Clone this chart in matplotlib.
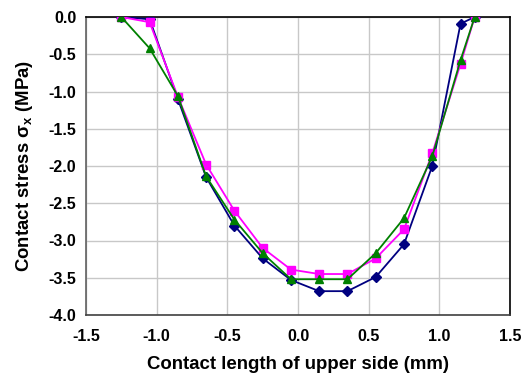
import matplotlib
matplotlib.use("Agg")
import matplotlib.pyplot as plt

x = [-1.25, -1.05, -0.85, -0.65, -0.45, -0.25, -0.05, 0.15, 0.35, 0.55, 0.75, 0.95, 1.15, 1.25]
blue = [0.0, -0.03, -1.10, -2.15, -2.80, -3.24, -3.53, -3.68, -3.68, -3.49, -3.05, -2.00, -0.09, 0.0]
pink = [0.0, -0.07, -1.07, -1.98, -2.60, -3.10, -3.39, -3.45, -3.45, -3.24, -2.85, -1.83, -0.63, 0.0]
green = [0.0, -0.42, -1.06, -2.14, -2.72, -3.17, -3.52, -3.52, -3.52, -3.17, -2.70, -1.87, -0.58, 0.0]

xticks = [-1.5, -1.0, -0.5, 0.0, 0.5, 1.0, 1.5]
yticks = [0.0, -0.5, -1.0, -1.5, -2.0, -2.5, -3.0, -3.5, -4.0]

plt.rcParams['font.family'] = ['Liberation Sans', 'DejaVu Sans']
plt.rcParams['mathtext.fontset'] = 'custom'
plt.rcParams['mathtext.rm'] = 'Liberation Sans:bold'
plt.rcParams['mathtext.it'] = 'Liberation Sans:italic'
plt.rcParams['mathtext.bf'] = 'Liberation Sans:bold'

fig = plt.figure(figsize=(5.26, 3.80), dpi=100)
ax = fig.add_axes([86/526, 1-315/380, (510-86)/526, (315-17)/380])

ax.plot(x, blue, color='#000080', marker='D', markersize=5, linewidth=1.3, zorder=3)
ax.plot(x, pink, color='#FF00FF', marker='s', markersize=5.5, linewidth=1.3, zorder=3)
ax.plot(x, green, color='#008000', marker='^', markersize=6, linewidth=1.3, zorder=4)

ax.set_xlim(-1.5, 1.5)
ax.set_ylim(-4.0, 0.0)
ax.set_xticks(xticks)
ax.set_yticks(yticks)
ax.set_xticklabels([f"{v:.1f}" for v in xticks])
ax.set_yticklabels([f"{v:.1f}" for v in yticks])
ax.grid(True, color='#c8c8c8', linewidth=1.0)
ax.set_axisbelow(True)
ax.tick_params(length=0, labelsize=11.5)
ax.tick_params(axis='x', pad=10)
ax.tick_params(axis='y', pad=7)
for lab in ax.get_xticklabels() + ax.get_yticklabels():
    lab.set_fontweight('bold')

ax.spines['top'].set_color('black')
ax.spines['right'].set_color('black')
ax.spines['left'].set_color('#606060')
ax.spines['bottom'].set_color('#404040')
for s in ax.spines.values():
    s.set_linewidth(1.2)

ax.set_xlabel('Contact length of upper side (mm)', fontsize=13.4, fontweight='bold', labelpad=9)
ax.set_ylabel('Contact stress σ$_\\mathrm{x}$ (MPa)', fontsize=13.4, fontweight='bold', labelpad=10)

fig.savefig('out.png', dpi=100)
